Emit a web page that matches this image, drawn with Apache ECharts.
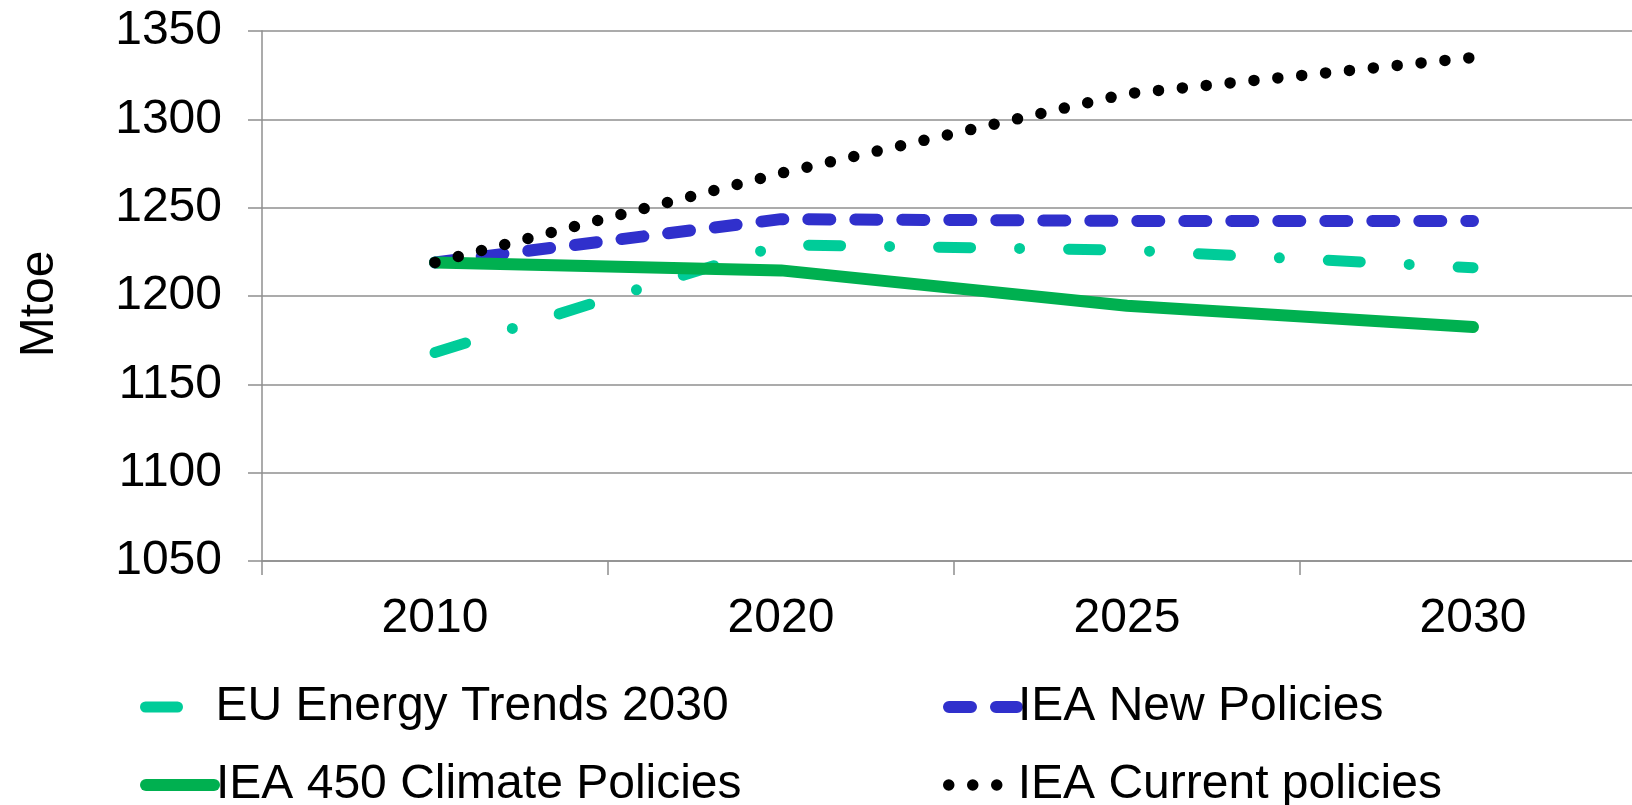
<!DOCTYPE html>
<html>
<head>
<meta charset="utf-8">
<script src="https://cdn.jsdelivr.net/npm/echarts@6/dist/echarts.min.js"></script>
<style>
html,body{margin:0;padding:0;background:#fff;overflow:hidden;}
#chart{width:1660px;height:805px;}
</style>
</head>
<body>
<div id="chart"></div>
<script>
const categories = ['2010', '2020', '2025', '2030'];
const euEnergyTrends = [1168, 1229, 1226, 1216];
const ieaNewPolicies = [1219, 1243.5, 1242.5, 1242.5];
const iea450 = [1219, 1214.5, 1194.5, 1182.5];
const ieaCurrent = [1219, 1269.5, 1314.5, 1335];
const yTicks = { min: 1050, max: 1350, interval: 50 };
const yTitle = 'Mtoe';
const names = ['EU Energy Trends 2030', 'IEA New Policies', 'IEA 450 Climate Policies', 'IEA Current policies'];

const FONT = '"Liberation Sans", Arial, sans-serif';
const FS = 48;
const gray = '#8f8f8f';
const chart = echarts.init(document.getElementById('chart'), null, { renderer: 'canvas' });

function legendAt(name, left, top, pad) {
  return {
    data: [name], left: left, top: top, padding: 0,
    orient: 'horizontal',
    itemWidth: 68, itemHeight: 14,
    textStyle: { fontSize: FS, fontFamily: FONT, color: '#000', padding: [0, 0, 0, pad] },
    lineStyle: { width: 'inherit', type: 'inherit', cap: 'inherit', join: 'inherit' },
    itemStyle: { opacity: 0 },
    selectedMode: false
  };
}

chart.setOption({
  animation: false,
  backgroundColor: '#fff',
  grid: { left: 262, top: 31, width: 1384, height: 530, containLabel: false },
  xAxis: {
    type: 'category',
    data: categories,
    boundaryGap: true,
    axisLine: { lineStyle: { color: gray, width: 1.5 } },
    axisTick: { show: true, interval: 0, length: 14, lineStyle: { color: gray, width: 1.5 } },
    axisLabel: { fontSize: FS, fontFamily: FONT, color: '#000', margin: 34, interval: 0 },
    splitLine: { show: false }
  },
  yAxis: {
    type: 'value',
    min: yTicks.min, max: yTicks.max, interval: yTicks.interval,
    axisLine: { show: true, lineStyle: { color: gray, width: 1.5 } },
    axisTick: { show: true, length: 14, lineStyle: { color: gray, width: 1.5 } },
    axisLabel: { fontSize: FS, fontFamily: FONT, color: '#000', margin: 40, formatter: function (v) { return String(v); } },
    splitLine: { show: true, lineStyle: { color: gray, width: 1.5 } }
  },
  graphic: [{
    type: 'text', x: 40, y: 304, rotation: Math.PI / 2,
    style: { text: yTitle, font: FS + 'px ' + FONT, fill: '#000', align: 'center', verticalAlign: 'middle' }
  }],
  legend: [
    legendAt(names[0], 140, 683, -3),
    legendAt(names[2], 140, 761, -3),
    legendAt(names[1], 943, 683, -4),
    legendAt(names[3], 943, 761, -4)
  ],
  series: [
    { name: names[0], type: 'line', data: euEnergyTrends, symbol: 'none', z: 2,
      lineStyle: { color: '#00CC99', width: 11, type: [32, 49, 0, 49], cap: 'round', join: 'round' },
      itemStyle: { color: '#00CC99' } },
    { name: names[1], type: 'line', data: ieaNewPolicies, symbol: 'none', z: 3,
      lineStyle: { color: '#3030CC', width: 12, type: [22, 25], cap: 'round', join: 'round' },
      itemStyle: { color: '#3030CC' } },
    { name: names[2], type: 'line', data: iea450, symbol: 'none', z: 4,
      lineStyle: { color: '#00B050', width: 12, type: 'solid', cap: 'round', join: 'round' },
      itemStyle: { color: '#00B050' } },
    { name: names[3], type: 'line', data: ieaCurrent, symbol: 'none', z: 5,
      lineStyle: { color: '#000000', width: 11.5, type: [0, 24], cap: 'round', join: 'round' },
      itemStyle: { color: '#000000' } }
  ]
});
</script>
</body>
</html>
